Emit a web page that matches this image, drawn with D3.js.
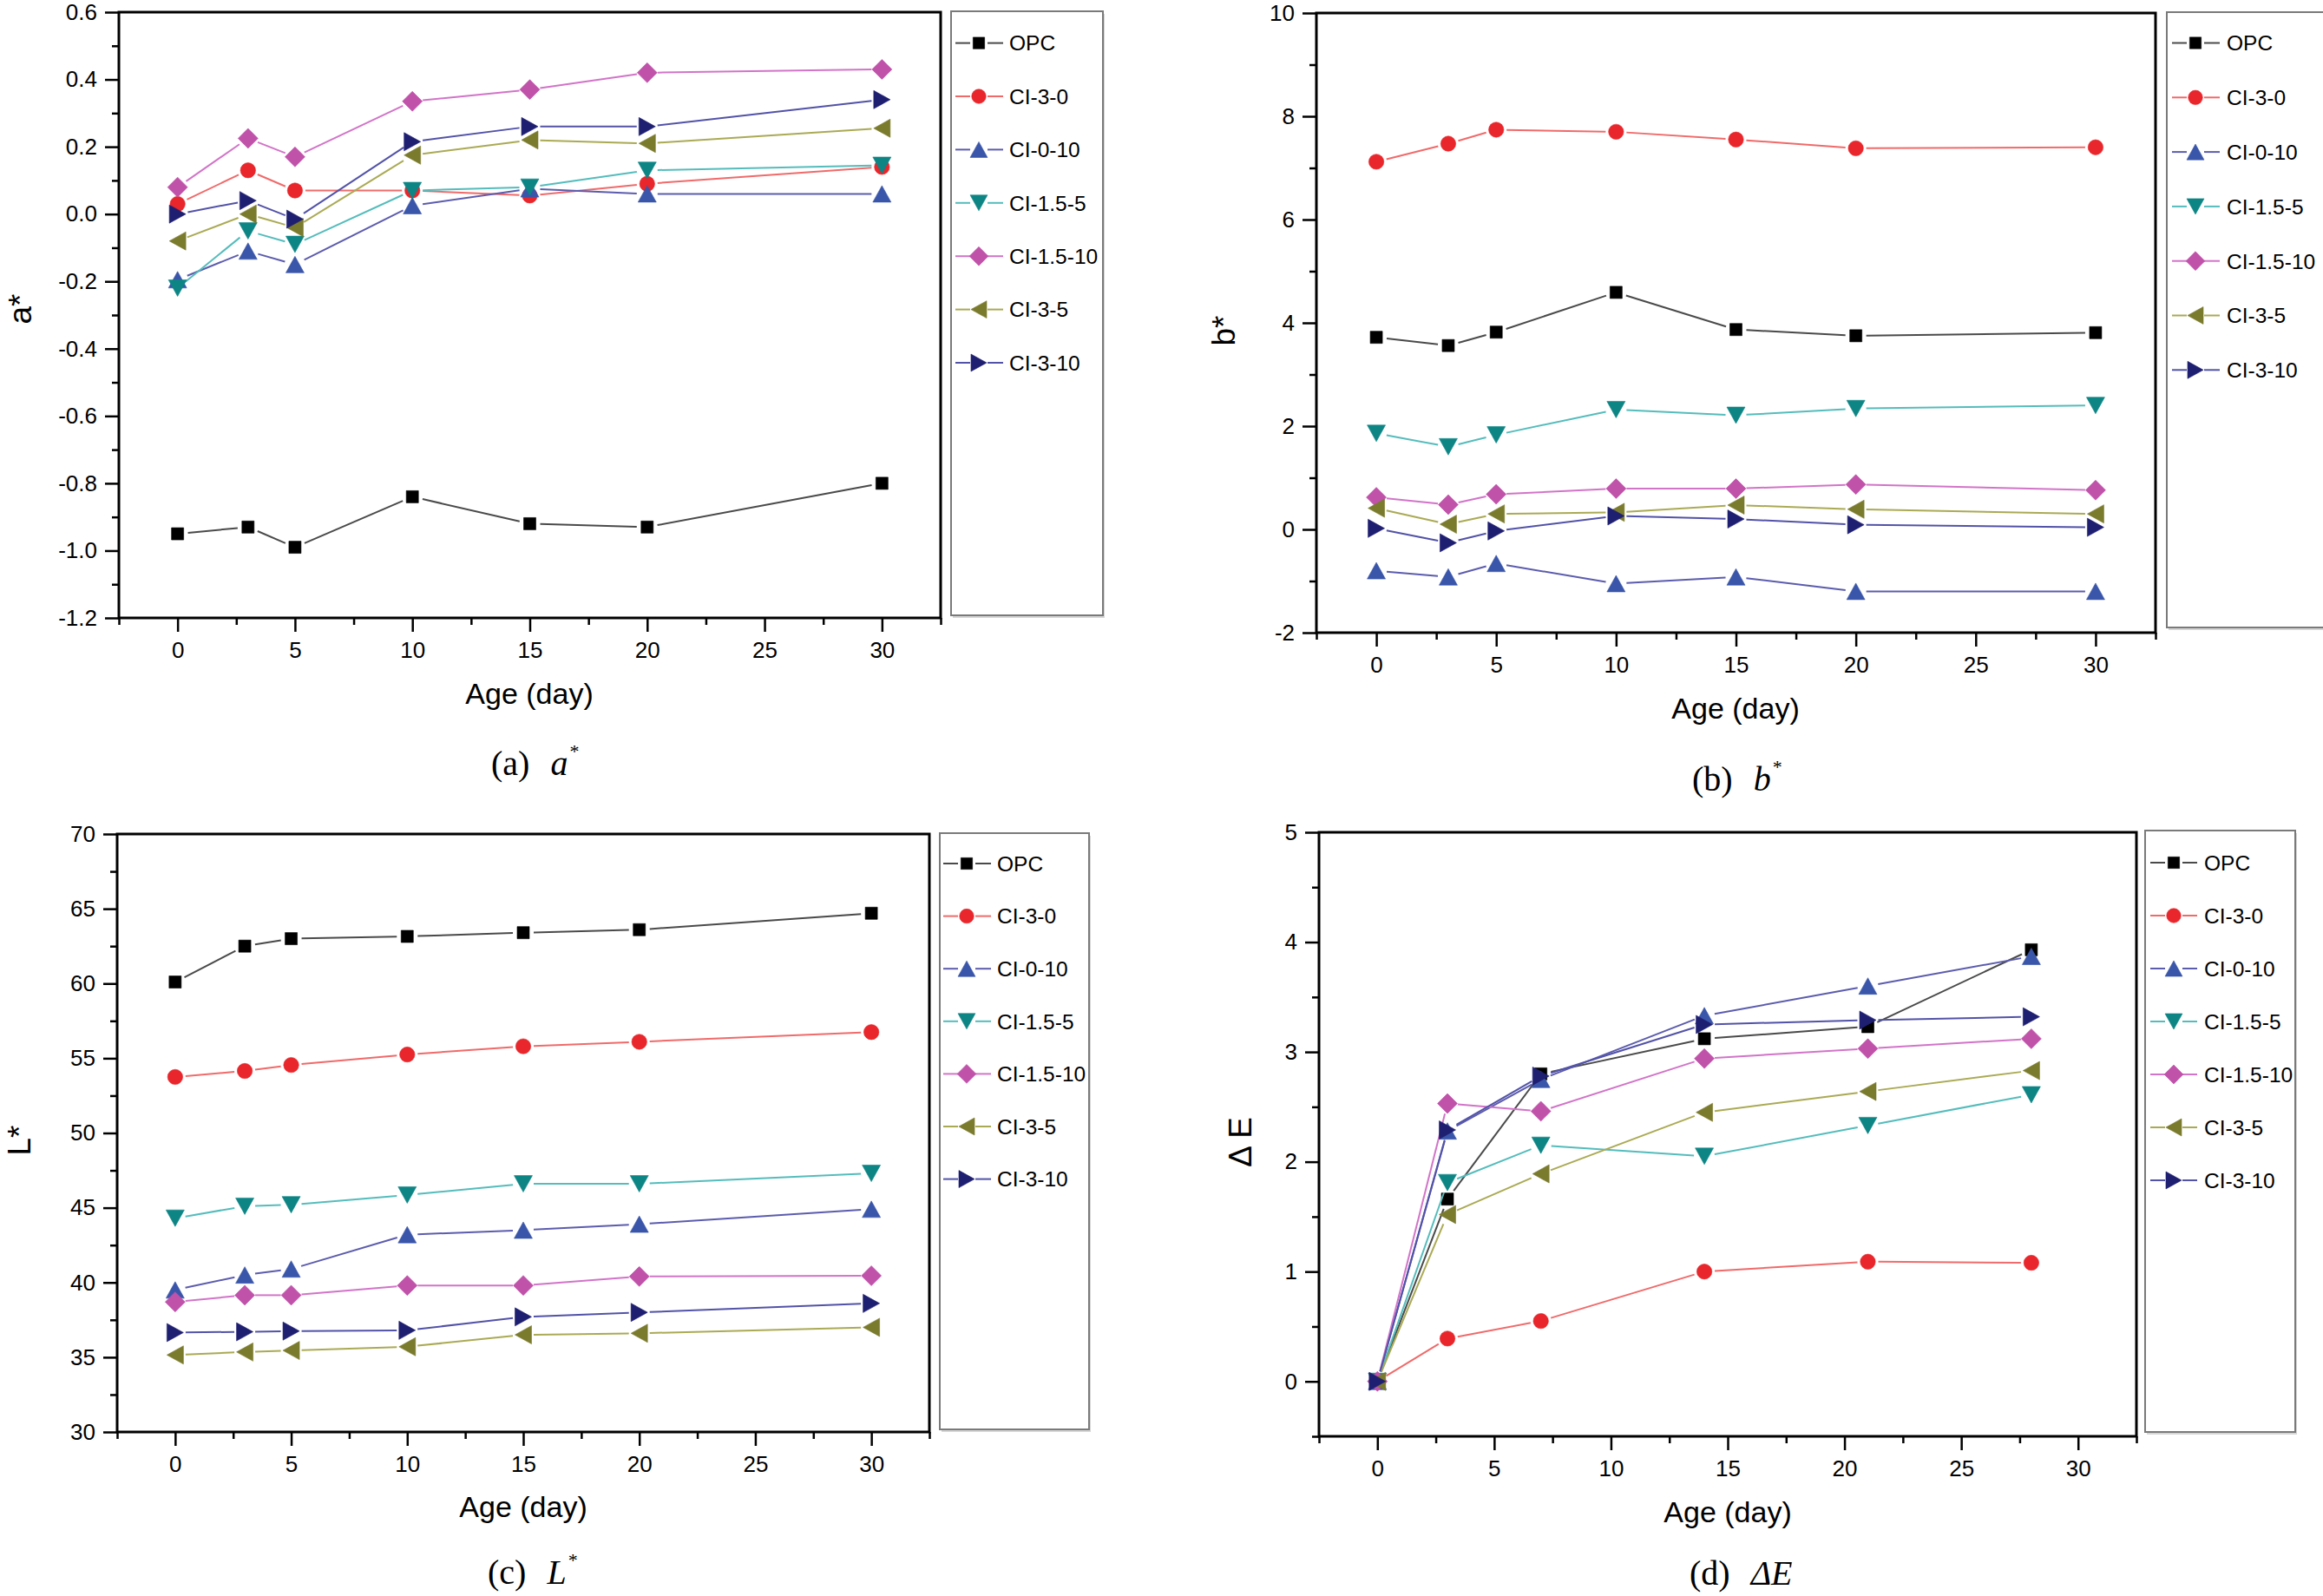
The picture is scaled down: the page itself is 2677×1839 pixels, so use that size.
<!DOCTYPE html>
<html><head><meta charset="utf-8">
<script src="https://cdn.jsdelivr.net/npm/d3@7"></script>
<style>
html,body{margin:0;padding:0;background:#fff;}
svg{display:block;}
</style></head><body>
<svg id="chart" width="2677" height="1839"></svg>
<script>
// ---------------- DATA ----------------
const seriesNames = ["OPC", "CI-3-0", "CI-0-10", "CI-1.5-5", "CI-1.5-10", "CI-3-5", "CI-3-10"];
const ageABC = [0, 3, 5, 10, 15, 20, 30];
const ageD = [0, 3, 7, 14, 21, 28];

// a* (rows follow seriesNames)
const aStarValues = [
  [-0.95, -0.93, -0.99, -0.84, -0.92, -0.93, -0.80],
  [0.03, 0.13, 0.07, 0.07, 0.055, 0.09, 0.14],
  [-0.195, -0.11, -0.15, 0.025, 0.075, 0.06, 0.06],
  [-0.22, -0.05, -0.09, 0.07, 0.08, 0.13, 0.145],
  [0.08, 0.225, 0.17, 0.335, 0.37, 0.42, 0.43],
  [-0.08, 0.0, -0.04, 0.175, 0.22, 0.21, 0.255],
  [0.0, 0.04, -0.015, 0.215, 0.26, 0.26, 0.34]
];
// b*
const bStarValues = [
  [3.72, 3.56, 3.82, 4.59, 3.87, 3.75, 3.81],
  [7.12, 7.47, 7.74, 7.70, 7.55, 7.38, 7.40],
  [-0.8, -0.92, -0.66, -1.05, -0.92, -1.2, -1.2],
  [1.86, 1.6, 1.83, 2.32, 2.21, 2.34, 2.40],
  [0.62, 0.48, 0.68, 0.79, 0.79, 0.87, 0.76],
  [0.41, 0.10, 0.30, 0.33, 0.47, 0.39, 0.30],
  [0.02, -0.26, -0.03, 0.26, 0.20, 0.09, 0.04]
];
// L*
const lStarValues = [
  [60.1, 62.5, 63.0, 63.15, 63.4, 63.6, 64.7],
  [53.75, 54.15, 54.55, 55.25, 55.8, 56.1, 56.75],
  [39.5, 40.5, 40.9, 43.2, 43.5, 43.9, 44.9],
  [44.3, 45.1, 45.2, 45.85, 46.6, 46.6, 47.3],
  [38.7, 39.15, 39.15, 39.8, 39.8, 40.4, 40.45],
  [35.15, 35.35, 35.45, 35.7, 36.5, 36.6, 37.0],
  [36.65, 36.7, 36.75, 36.8, 37.7, 38.0, 38.6]
];
// ΔE
const deltaEValues = [
  [0, 1.66, 2.80, 3.12, 3.23, 3.93],
  [0, 0.39, 0.55, 1.00, 1.09, 1.08],
  [0, 2.28, 2.75, 3.33, 3.60, 3.87],
  [0, 1.81, 2.15, 2.05, 2.33, 2.61],
  [0, 2.53, 2.46, 2.94, 3.03, 3.12],
  [0, 1.52, 1.89, 2.45, 2.64, 2.83],
  [0, 2.29, 2.78, 3.25, 3.29, 3.32]
];

// ticks
const xMajorTicks = [0, 5, 10, 15, 20, 25, 30];
const xMinorTicks = [-2.5, 2.5, 7.5, 12.5, 17.5, 22.5, 27.5, 32.5];
const aTicks = [-1.2, -1.0, -0.8, -0.6, -0.4, -0.2, 0.0, 0.2, 0.4, 0.6];
const aMinorTicks = [-1.1, -0.9, -0.7, -0.5, -0.3, -0.1, 0.1, 0.3, 0.5];
const bTicks = [-2, 0, 2, 4, 6, 8, 10];
const bMinorTicks = [-1, 1, 3, 5, 7, 9];
const lTicks = [30, 35, 40, 45, 50, 55, 60, 65, 70];
const lMinorTicks = [32.5, 37.5, 42.5, 47.5, 52.5, 57.5, 62.5, 67.5];
const eTicks = [0, 1, 2, 3, 4, 5];
const eMinorTicks = [-0.5, 0.5, 1.5, 2.5, 3.5, 4.5];

// ---------------- STYLES ----------------
const markerColors = ["#000000", "#e8262b", "#3a56aa", "#0e8585", "#c052aa", "#7b7b2e", "#1f1f72"];
const lineColors   = ["#4a4a4a", "#f06a6a", "#5c5cae", "#55bcbc", "#d274c8", "#aaaa55", "#5252a8"];
const shapes = ["square", "circle", "up", "down", "diamond", "left", "right"];
const SANS = '"Liberation Sans", Arial, sans-serif';
const SERIF = '"Liberation Serif", "Times New Roman", serif';

function markerPath(shape, k) {
  k = k || 1;
  const t = 10.5 * k, h = 9.5 * k;
  switch (shape) {
    case "square": { const s = 7 * k; return `M${-s},${-s}H${s}V${s}H${-s}Z`; }
    case "circle": { const r = 8.7 * k; return `M${-r},0A${r},${r} 0 1,0 ${r},0A${r},${r} 0 1,0 ${-r},0Z`; }
    case "up": return `M0,${-h}L${t},${h}L${-t},${h}Z`;
    case "down": return `M0,${h}L${t},${-h}L${-t},${-h}Z`;
    case "left": return `M${-h},0L${h},${-t}L${h},${t}Z`;
    case "right": return `M${h},0L${-h},${-t}L${-h},${t}Z`;
    case "diamond": { const d = 11.5 * k; return `M0,${-d}L${d},0L0,${d}L${-d},0Z`; }
  }
}

const svg = d3.select("#chart");
svg.append("rect").attr("width", 2677).attr("height", 1839).attr("fill", "#fff");

const panels = [
  { xs: ageABC, values: aStarValues, yDomain: [-1.2, 0.6], yTicks: aTicks, yMinor: aMinorTicks,
    fmt: d => d.toFixed(1), yTitle: "a*", capLabel: "(a)", capVar: "a", capSup: "*",
    box: {x0: 137, x1: 1084, y0: 14, y1: 712},
    yTitlePos: [23, 356], xTitlePos: [610, 799], capPos: [566, 893],
    legend: {x: 1096, y: 13, w: 175, h: 696, row0: 49.6, dy: 61.4, lx0: 1101, sx: 1128, lx1: 1156, tx: 1163} },
  { xs: ageABC, values: bStarValues, yDomain: [-2, 10], yTicks: bTicks, yMinor: bMinorTicks,
    fmt: d => String(d), yTitle: "b*", capLabel: "(b)", capVar: "b", capSup: "*",
    box: {x0: 1517, x1: 2484, y0: 15, y1: 729},
    yTitlePos: [1410, 381], xTitlePos: [2000, 816], capPos: [1950, 911],
    legend: {x: 2497, y: 14, w: 190, h: 709, row0: 49.5, dy: 62.8, lx0: 2503, sx: 2530, lx1: 2558, tx: 2566} },
  { xs: ageABC, values: lStarValues, yDomain: [30, 70], yTicks: lTicks, yMinor: lMinorTicks,
    fmt: d => String(d), yTitle: "L*", capLabel: "(c)", capVar: "L", capSup: "*",
    box: {x0: 135, x1: 1071, y0: 961, y1: 1650},
    yTitlePos: [22, 1314], xTitlePos: [603, 1736], capPos: [562, 1825],
    legend: {x: 1083, y: 960, w: 172, h: 687, row0: 995, dy: 60.6, lx0: 1087, sx: 1114, lx1: 1142, tx: 1149} },
  { xs: ageD, values: deltaEValues, yDomain: [-0.5, 5], yTicks: eTicks, yMinor: eMinorTicks,
    fmt: d => String(d), yTitle: "\u0394 E", capLabel: "(d)", capVar: "\u0394E", capSup: "",
    box: {x0: 1520, x1: 2462, y0: 959, y1: 1655},
    yTitlePos: [1429, 1316], xTitlePos: [1991, 1742], capPos: [1947, 1826],
    legend: {x: 2472, y: 957, w: 173, h: 693, row0: 994, dy: 61, lx0: 2478, sx: 2505, lx1: 2532, tx: 2540} }
];

function styleAxis(g) {
  g.select("path.domain").remove();
  g.attr("font-family", SANS).attr("font-size", 26);
  g.selectAll(".tick line").attr("stroke", "#000").attr("stroke-width", 2.5);
  g.selectAll(".tick text").attr("fill", "#000");
}

panels.forEach(p => {
  const g = svg.append("g");
  const b = p.box;
  const x = d3.scaleLinear().domain([-2.5, 32.5]).range([b.x0, b.x1]);
  const y = d3.scaleLinear().domain(p.yDomain).range([b.y1, b.y0]);

  // axes
  g.append("g").attr("transform", `translate(0,${b.y1})`)
    .call(d3.axisBottom(x).tickValues(xMinorTicks).tickSize(8).tickSizeOuter(0).tickFormat(""))
    .call(styleAxis);
  g.append("g").attr("transform", `translate(0,${b.y1})`)
    .call(d3.axisBottom(x).tickValues(xMajorTicks).tickSize(16).tickSizeOuter(0).tickPadding(12).tickFormat(d => String(d)))
    .call(styleAxis);
  g.append("g").attr("transform", `translate(${b.x0},0)`)
    .call(d3.axisLeft(y).tickValues(p.yMinor).tickSize(8).tickSizeOuter(0).tickFormat(""))
    .call(styleAxis);
  g.append("g").attr("transform", `translate(${b.x0},0)`)
    .call(d3.axisLeft(y).tickValues(p.yTicks).tickSize(16).tickSizeOuter(0).tickPadding(9).tickFormat(p.fmt))
    .call(styleAxis);

  // frame
  g.append("rect").attr("x", b.x0).attr("y", b.y0).attr("width", b.x1 - b.x0).attr("height", b.y1 - b.y0)
    .attr("fill", "none").attr("stroke", "#000").attr("stroke-width", 3);

  // series
  const gap = 12;
  p.values.forEach((vals, si) => {
    const pts = vals.map((v, i) => [x(p.xs[i]), y(v)]);
    const sg = g.append("g");
    for (let i = 0; i < pts.length - 1; i++) {
      const [x1, y1] = pts[i], [x2, y2] = pts[i + 1];
      const dx = x2 - x1, dy = y2 - y1, d = Math.hypot(dx, dy);
      if (d <= 2 * gap + 1) continue;
      const ux = dx / d, uy = dy / d;
      sg.append("line")
        .attr("x1", x1 + ux * gap).attr("y1", y1 + uy * gap)
        .attr("x2", x2 - ux * gap).attr("y2", y2 - uy * gap)
        .attr("stroke", lineColors[si]).attr("stroke-width", 2);
    }
    sg.selectAll("path.mk").data(pts).join("path").attr("class", "mk")
      .attr("d", markerPath(shapes[si]))
      .attr("transform", d => `translate(${d[0]},${d[1]})`)
      .attr("fill", markerColors[si]).attr("stroke", markerColors[si]).attr("stroke-width", 0.6);
  });

  // legend
  const L = p.legend;
  g.append("rect").attr("x", L.x + 2).attr("y", L.y + 3).attr("width", L.w).attr("height", L.h)
    .attr("fill", "#d6d6d6");
  g.append("rect").attr("x", L.x).attr("y", L.y).attr("width", L.w).attr("height", L.h)
    .attr("fill", "#fff").attr("stroke", "#7a7a7a").attr("stroke-width", 2);
  seriesNames.forEach((name, si) => {
    const cy = L.row0 + si * L.dy;
    const lg = g.append("g");
    lg.append("line").attr("x1", L.lx0).attr("x2", L.sx - 10).attr("y1", cy).attr("y2", cy)
      .attr("stroke", lineColors[si]).attr("stroke-width", 2);
    lg.append("line").attr("x1", L.sx + 10).attr("x2", L.lx1).attr("y1", cy).attr("y2", cy)
      .attr("stroke", lineColors[si]).attr("stroke-width", 2);
    lg.append("path").attr("d", markerPath(shapes[si], 0.95))
      .attr("transform", `translate(${L.sx},${cy})`)
      .attr("fill", markerColors[si]).attr("stroke", markerColors[si]).attr("stroke-width", 0.6);
    lg.append("text").attr("x", L.tx).attr("y", cy).attr("dy", "0.36em")
      .attr("font-family", SANS).attr("font-size", 24.5).attr("fill", "#000").text(name);
  });

  // titles
  g.append("text").attr("transform", `translate(${p.yTitlePos[0]},${p.yTitlePos[1]}) rotate(-90)`)
    .attr("text-anchor", "middle").attr("dy", "0.36em")
    .attr("font-family", SANS).attr("font-size", 37).attr("fill", "#000").text(p.yTitle);
  g.append("text").attr("x", p.xTitlePos[0]).attr("y", p.xTitlePos[1]).attr("dy", "0.36em")
    .attr("text-anchor", "middle").attr("font-family", SANS).attr("font-size", 34).attr("fill", "#000")
    .text("Age (day)");

  // caption
  const cap = g.append("text").attr("x", p.capPos[0]).attr("y", p.capPos[1])
    .attr("font-family", SERIF).attr("font-size", 40).attr("fill", "#000");
  cap.append("tspan").text(p.capLabel);
  cap.append("tspan").attr("dx", 24).attr("font-style", "italic").text(p.capVar);
  if (p.capSup) {
    cap.append("tspan").attr("dx", 2).attr("dy", -20).attr("font-size", 22).text(p.capSup);
  }
});
</script>
</body></html>
